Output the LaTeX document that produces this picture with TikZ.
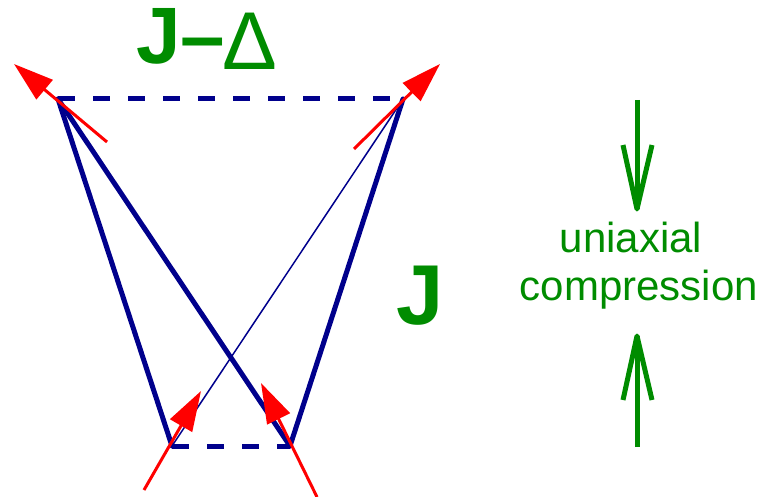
\documentclass[tikz,border=0pt]{standalone}
\usepackage{fontspec}
\setmainfont{Liberation Sans}
\usetikzlibrary{arrows.meta}
\definecolor{navyb}{RGB}{0,0,140}
\definecolor{grn}{RGB}{0,140,0}
\tikzset{
  thickline/.style={navyb, line width=5pt, line cap=round},
  thinline/.style={navyb, line width=1.5pt},
  dashline/.style={navyb, line width=5pt, dash pattern=on 17pt off 18pt},
  redarrow/.style={red, line width=3pt, -{Triangle[length=40pt,width=25pt]}},
  grnline/.style={grn, line width=5pt, line join=round},
  lbl/.style={text=grn, inner sep=0pt, outer sep=0pt},
}
\begin{document}
\begin{tikzpicture}[x=1pt,y=-1pt]
\useasboundingbox (0,0) rectangle (762,497);
% vertices
\coordinate (TL) at (58,99);
\coordinate (TR) at (403,99);
\coordinate (BL) at (172,446);
\coordinate (BR) at (290,446);
% blue frame
\draw[dashline] (TL) -- (TR);
\draw[dashline] (BL) -- (BR);
\draw[thickline] (TL) -- (BL);
\draw[thickline] (TL) -- (BR);
\draw[thickline] (TR) -- (BR);
\draw[thinline] (TR) -- (BL);
% red arrows
\coordinate (a1s) at (107,142); \coordinate (a1e) at (14,64);
\coordinate (a2s) at (354,149); \coordinate (a2e) at (440,64);
\coordinate (a3s) at (144,490); \coordinate (a3e) at (201,391);
\coordinate (a4s) at (317,497); \coordinate (a4e) at (261,383);
\draw[redarrow] (a1s) -- (a1e);
\draw[redarrow] (a2s) -- (a2e);
\draw[redarrow] (a3s) -- (a3e);
\draw[redarrow] (a4s) -- (a4e);
% labels
\node[lbl, anchor=base west, font=\fontsize{80}{80}\selectfont\bfseries] (jd) at (136,64) {J–};
\node[lbl, anchor=base west, font=\fontsize{82}{82}\selectfont] (delta) at (222,70) {Δ};
\node[lbl, anchor=base west, font=\fontsize{85}{85}\selectfont\bfseries] (j) at (396,324) {J};
\node[lbl, anchor=base, font=\fontsize{42}{42}\selectfont] (uni) at (631,252) {uniaxial};
\node[lbl, anchor=base, font=\fontsize{42}{42}\selectfont] (comp) at (639,300) {compression};
% green arrows
\coordinate (d0) at (637,100); \coordinate (d1) at (637,209);
\coordinate (dl) at (623,145); \coordinate (dr) at (652,145);
\draw[grnline] (d0) -- (d1);
\draw[grnline] (dl) -- (d1) -- (dr);
\coordinate (u0) at (637,447); \coordinate (u1) at (637,336);
\coordinate (ul) at (623,400); \coordinate (ur) at (652,400);
\draw[grnline] (u0) -- (u1);
\draw[grnline] (ul) -- (u1) -- (ur);
\end{tikzpicture}
\end{document}
